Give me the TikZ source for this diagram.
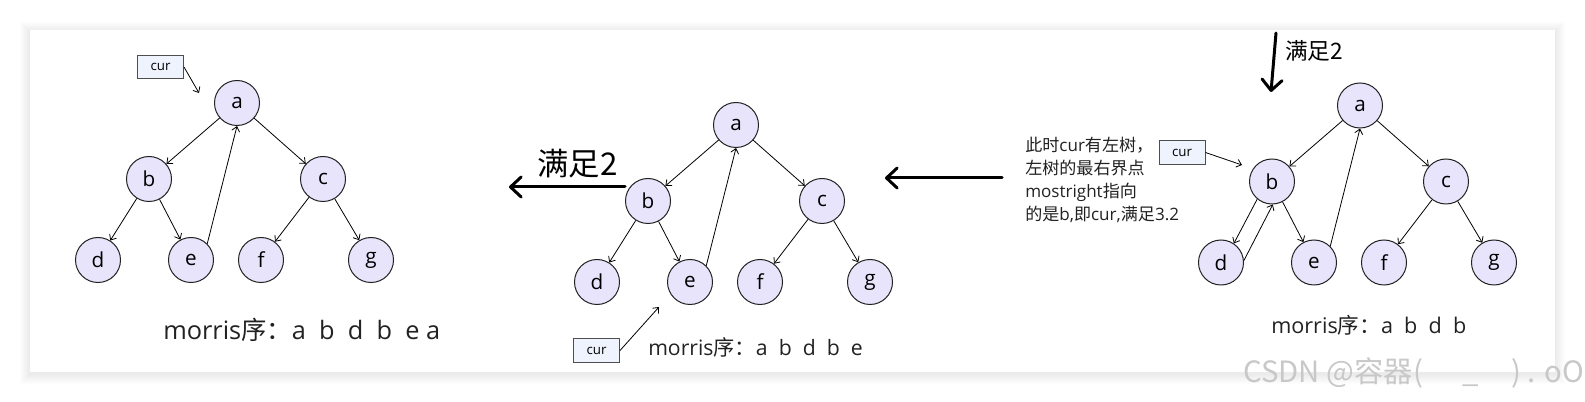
\documentclass[tikz,border=0pt]{standalone}
\usepackage{fontspec}
\setmainfont{Open Sans}
\newfontfamily\cjk{Noto Sans CJK SC}
\usetikzlibrary{arrows.meta}

\definecolor{nodefill}{RGB}{232,228,252}
\definecolor{curfill}{RGB}{238,243,253}
\definecolor{inkgray}{RGB}{34,34,34}
\definecolor{markgray}{RGB}{200,200,200}

\tikzset{
  vert/.style={circle, draw=inkgray, line width=0.75pt, fill=nodefill,
    minimum size=33.75pt, inner sep=0pt, font=\fontsize{15.5}{18}\selectfont},
  edge/.style={-{Straight Barb[length=3.5pt,width=6pt]}, line width=0.6pt},
  curbox/.style={draw=inkgray!80, line width=0.75pt, fill=curfill,
    minimum width=34.5pt, minimum height=17.5pt, inner sep=0pt,
    font=\fontsize{10}{12}\selectfont},
  bigarrow/.style={-{Straight Barb[length=8pt,width=15pt,round]},
    line width=2.25pt, line cap=round},
  seq/.style={anchor=west, inner sep=0pt, text=inkgray},
}

% one tree a..g, names prefixed with #1
\newcommand{\bintree}[1]{%
  \node[vert] (#1a) at (0,0) {a};
  \node[vert] (#1b) at (-88,76) {b};
  \node[vert] (#1c) at (86,76) {c};
  \node[vert] (#1d) at (-139,157) {d};
  \node[vert] (#1e) at (-46,157) {e};
  \node[vert] (#1f) at (24,157) {f};
  \node[vert] (#1g) at (134,157) {g};
  \draw[edge] (#1a) -- (#1b);
  \draw[edge] (#1a) -- (#1c);
  \draw[edge] (#1b) -- (#1e);
  \draw[edge] (#1c) -- (#1f);
  \draw[edge] (#1c) -- (#1g);
  \draw[edge] (#1e.45) -- (#1a.south);
}

\begin{document}
\begin{tikzpicture}[x=0.75pt, y=-0.75pt]
  \useasboundingbox (0,0) rectangle (1585,402);
  \fill[white] (0,0) rectangle (1585,402);
  % card with soft shadow
  \foreach \s in {1,...,10}
    \fill[black, opacity=0.006] (30-\s,32-\s) rectangle (1555+\s,374+\s);
  \fill[white] (30,30) rectangle (1555,372);

  % left tree
  \begin{scope}[shift={(237,103)}]
    \bintree{l}
  \end{scope}
  \draw[edge] (lb) -- (ld);
  \node[curbox] (lcur) at (160.5,67) {cur};
  \coordinate (lcurtip) at (199,93);
  \draw[edge] (lcur.east) -- (lcurtip);
  \node[seq, font=\fontsize{19}{22}\selectfont] (lseq) at (163,330)
    {morris{\cjk 序：}a\ \ b\ \ d\ \ b\ \ e a};

  % middle tree
  \begin{scope}[shift={(736,125)}]
    \bintree{m}
  \end{scope}
  \draw[edge] (mb) -- (md);
  \node[curbox] (mcur) at (596.5,350.5) {cur};
  \coordinate (mcurtip) at (659,307);
  \draw[edge] (mcur.east) -- (mcurtip);
  \node[seq, font=\fontsize{15.9}{19}\selectfont] (mseq) at (648,347)
    {morris{\cjk 序：}a\ \ b\ \ d\ \ b\ \ e};

  % right tree
  \begin{scope}[shift={(1360,105.5)}]
    \bintree{r}
  \end{scope}
  \draw[edge] (rb.230) -- (rd.56);
  \draw[edge] (rd.5) -- (rb.-88);
  \node[curbox] (rcur) at (1182,152.5) {cur};
  \coordinate (rcurtip) at (1242,165);
  \draw[edge] (rcur.east) -- (rcurtip);
  \node[seq, font=\fontsize{16.2}{19}\selectfont] (rseq) at (1271,325)
    {morris{\cjk 序：}a\ \ b\ \ d\ \ b};
  \node[seq, align=left, font=\fontsize{12.8}{17.25}\selectfont] (rnote) at (1025,179.5)
    {{\cjk 此时}cur{\cjk 有左树，}\\{\cjk 左树的最右界点}\\mostright{\cjk 指向}\\{\cjk 的是}b,{\cjk 即}cur,{\cjk 满足}3.2};

  % steps between the trees
  \coordinate (go1s) at (625,187);
  \coordinate (go1e) at (509,187);
  \draw[bigarrow] (go1s) -- (go1e);
  \node[font=\cjk\fontsize{23.5}{26}\selectfont] (go1lab) at (577.5,164) {满足2};
  \coordinate (go2s) at (1002,178);
  \coordinate (go2e) at (885,178);
  \draw[bigarrow] (go2s) -- (go2e);
  \coordinate (go3s) at (1276,33);
  \coordinate (go3e) at (1271,92);
  \draw[bigarrow] (go3s) -- (go3e);
  \node[font=\cjk\fontsize{17}{20}\selectfont] (go3lab) at (1314,51) {满足2};

  % watermark
  \node[anchor=base west, inner sep=0pt, text=markgray,
    font=\cjk\fontsize{22}{24}\selectfont] (mark) at (1243,383)
    {CSDN @容器(\hspace{30pt}\_\hspace{24pt}) . oO};
\end{tikzpicture}
\end{document}
